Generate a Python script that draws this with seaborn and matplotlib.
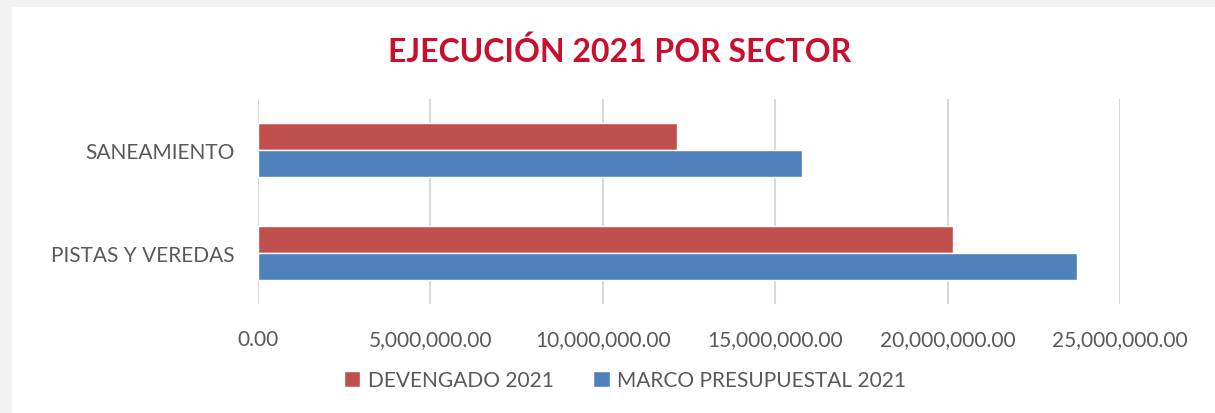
import pandas as pd
import seaborn as sns
import matplotlib.pyplot as plt
from matplotlib.patches import Rectangle
from matplotlib.ticker import FuncFormatter

# values
sectores = ['SANEAMIENTO', 'PISTAS Y VEREDAS']
devengado_2021 = [12140000, 20170000]
marco_2021 = [15790000, 23740000]
series = ['DEVENGADO 2021', 'MARCO PRESUPUESTAL 2021']
colores = ['#C0504D', '#4F81BD']
ticks = [0, 5000000, 10000000, 15000000, 20000000, 25000000]

df = pd.DataFrame({
    'sector': sectores * 2,
    'serie': [series[0]] * 2 + [series[1]] * 2,
    'monto': devengado_2021 + marco_2021,
})

sns.set_style('white')
plt.rcParams['font.family'] = ['Lato', 'DejaVu Sans']
gris = '#595959'

fig = plt.figure(figsize=(12.15, 4.14), dpi=100, facecolor='#F2F2F2')
# white chart area, gray strip on left and top
fig.patches.append(Rectangle((12 / 1215, 0), 1, 1 - 8 / 414, transform=fig.transFigure,
                             facecolor='white', edgecolor='none', zorder=-10))
ax = fig.add_axes([258 / 1215, 1 - 305 / 414, (1120 - 258) / 1215, 205 / 414])
ax.set_zorder(2)
ax.set_facecolor('none')

sns.barplot(data=df, x='monto', y='sector', hue='serie', order=sectores, hue_order=series,
            palette=colores, orient='h', width=0.53, gap=0, ax=ax, legend=True, saturation=1)

ax.set_xlim(0, 25000000)
ax.set_ylim(1.5, -0.5)
ax.set_xticks(ticks)
ax.xaxis.set_major_formatter(FuncFormatter(lambda v, p: f'{v:,.2f}'))
ax.grid(axis='x', color='#D9D9D9', linewidth=1.5)
ax.set_axisbelow(True)
for s in ax.spines.values():
    s.set_visible(False)
ax.tick_params(axis='both', length=0, labelsize=15, labelcolor=gris)
ax.tick_params(axis='x', pad=18)
ax.tick_params(axis='y', pad=16.5)
ax.set_xlabel('')
ax.set_ylabel('')

handles, labels = ax.get_legend_handles_labels()
ax.get_legend().remove()
fig.legend(handles, labels, loc='center', bbox_to_anchor=(625 / 1215, 1 - 381 / 414), ncol=2,
           frameon=False, fontsize=15, labelcolor=gris, handlelength=0.8, handleheight=0.8,
           handletextpad=0.35, columnspacing=1.9)

fig.text(620 / 1215, 1 - 52 / 414, 'EJECUCIÓN 2021 POR SECTOR', ha='center', va='center',
         fontsize=23, fontweight='bold', color='#C8102E')

fig.savefig('out.png', dpi=100, facecolor=fig.get_facecolor())
